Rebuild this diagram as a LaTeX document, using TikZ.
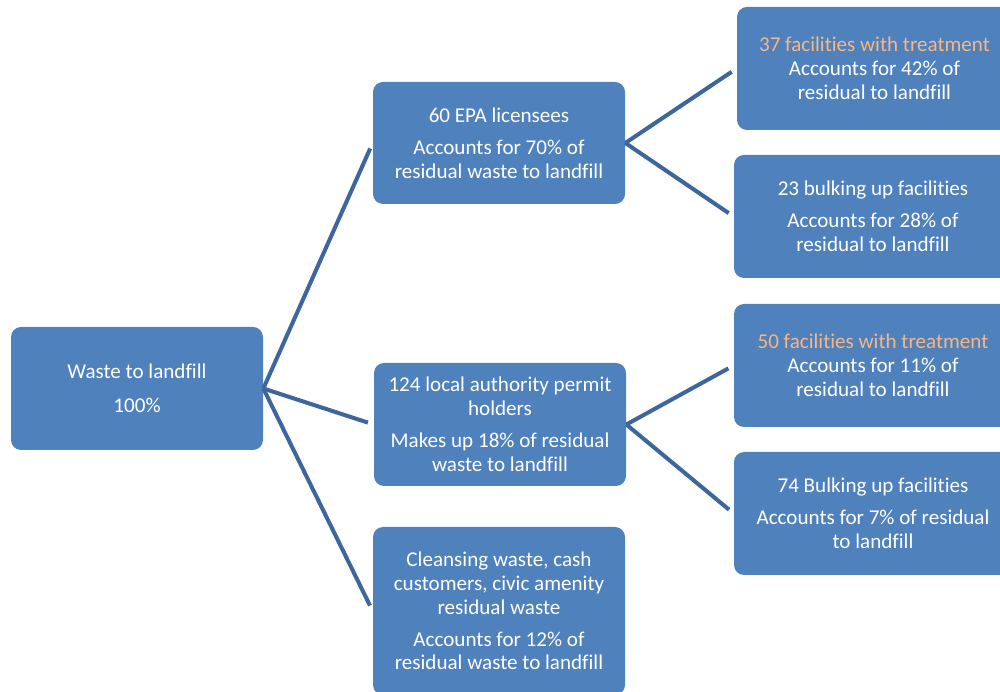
\documentclass[tikz,border=0pt]{standalone}
\usepackage{fontspec}
\setmainfont{Carlito}[Ligatures=NoCommon]
\definecolor{boxblue}{RGB}{79,129,189}
\definecolor{linkblue}{RGB}{61,103,156}
\definecolor{hilite}{RGB}{247,182,130}
\tikzset{
	box/.style={fill=boxblue, rounded corners=0.2cm, minimum width=5.04cm, minimum height=2.46cm, inner sep=0pt, text=white, align=center, font=\fontsize{12}{13.6}\selectfont},
	link/.style={draw=linkblue, line width=2.3pt, shorten >=0.12cm}
}
\begin{document}
\begin{tikzpicture}
				\useasboundingbox (0,0) rectangle (20,-13.84);
				\node[box] (waste) at (2.74,-7.77) {Waste to landfill\\[5.5pt]100\%};
				%--
				\node[box, minimum height=2.44cm] (epa) at (9.98,-2.86) {60 EPA licensees\\[4.5pt]Accounts for 70\% of\\residual waste to landfill};
				\node[box] (local) at (10,-8.49) {124 local authority permit\\holders\\[4.5pt]Makes up 18\% of residual\\waste to landfill};
				\node[box, minimum height=3.36cm] (civic) at (9.98,-12.22) {Cleansing waste, cash\\customers, civic amenity\\residual waste\\[4.5pt]Accounts for 12\% of\\residual waste to landfill};
				\draw[link] (waste.east) -- (epa.west);
				\draw[link] (waste.east) -- (local.west);
				\draw[link] (waste.east) -- (civic.west);
				%--
				\node[box, minimum width=5.5cm] (epatreat) at (17.49,-1.37) {\textcolor{hilite}{37 facilities with treatment}\\Accounts for 42\% of\\residual to landfill};
				\node[box, minimum width=5.56cm] (epabulk) at (17.46,-4.33) {23 bulking up facilities\\[4.5pt]Accounts for 28\% of\\residual to landfill};
				\draw[link] (epa.east) -- (epatreat.west);
				\draw[link] (epa.east) -- (epabulk.west);
				%--
				\node[box, minimum width=5.56cm] (localtreat) at (17.46,-7.31) {\textcolor{hilite}{50 facilities with treatment}\\Accounts for 11\% of\\residual to landfill};
				\node[box, minimum width=5.56cm] (localbulk) at (17.46,-10.27) {74 Bulking up facilities\\[4.5pt]Accounts for 7\% of residual\\to landfill};
				\draw[link] (local.east) -- (localtreat.west);
				\draw[link] (local.east) -- (localbulk.west);
			\end{tikzpicture}
\end{document}
